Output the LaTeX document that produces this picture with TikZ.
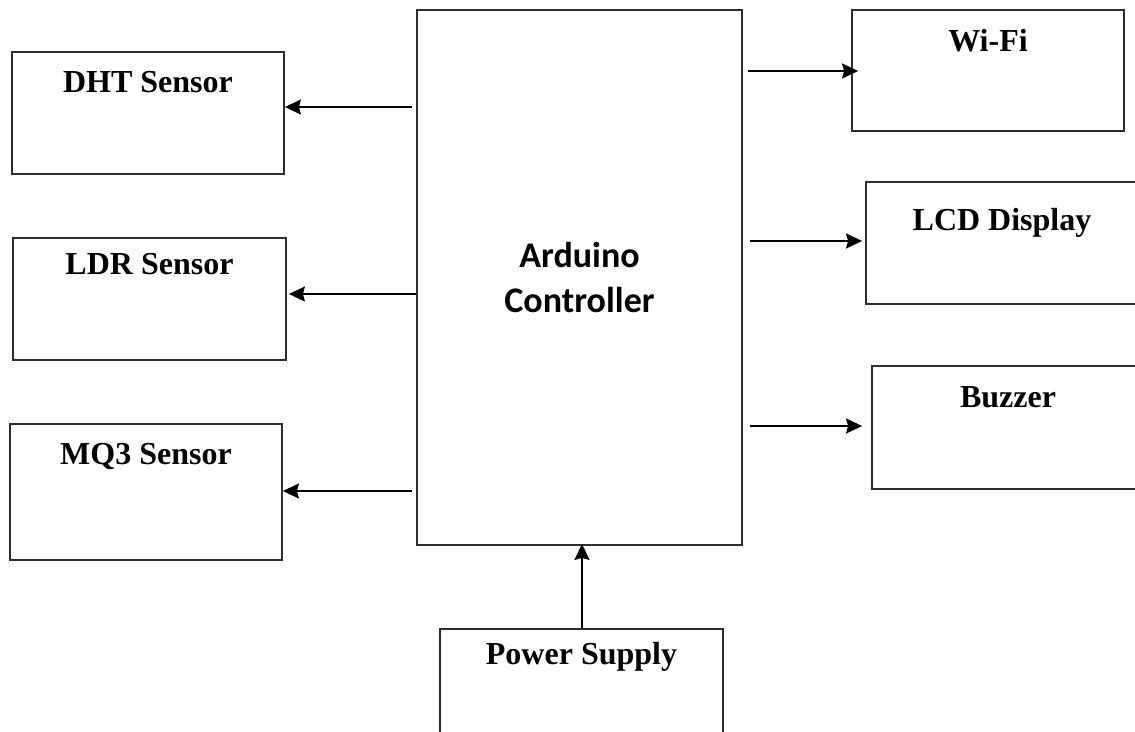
\documentclass[tikz,border=0pt]{standalone}
\usepackage{fontspec}
\setmainfont{Liberation Serif}
\newfontfamily\ctrlfont{Carlito}
\usepackage{tikz}
\usetikzlibrary{arrows.meta,calc}
\definecolor{ink}{HTML}{000000}
\definecolor{edge}{HTML}{2E2E2E}
\tikzset{
  box/.style={draw=edge,line width=1.8pt,minimum width=272pt,minimum height=122pt,inner sep=0pt},
  ctrl/.style={draw=edge,line width=1.8pt,minimum width=325pt,minimum height=535pt,align=center,font=\ctrlfont\fontsize{36}{45}\selectfont\bfseries},
  tag/.style={anchor=base,inner sep=0pt,font=\fontsize{32}{38}\selectfont\bfseries},
  flow/.style={-{Stealth[length=16pt,width=15pt,inset=2pt]},line width=1.9pt,draw=ink}
}
\begin{document}
\begin{tikzpicture}[x=1pt,y=-1pt]
  \useasboundingbox[fill=white] (0,0) rectangle (1135,731);
  \clip (0,0) rectangle (1135,731);
  \node[ctrl] (ard) at (579.5,277.5) {Arduino\\Controller};
  \node[box] (dht) at (148,113) {};
  \node[box,minimum width=273pt] (ldr) at (149.5,299) {};
  \node[box,minimum height=136pt] (mq3) at (146,492) {};
  \node[box,minimum height=121pt] (wifi) at (988,70.5) {};
  \node[box] (lcd) at (1002,243) {};
  \node[box,minimum height=123pt] (buzz) at (1008,427.5) {};
  \node[box,minimum width=283pt] (power) at (581.5,690) {};
  \node[tag] (dhtT) at ([yshift=-41pt]dht.north) {DHT Sensor};
  \node[tag] (ldrT) at ([yshift=-37pt]ldr.north) {LDR Sensor};
  \node[tag] (mq3T) at ([yshift=-41pt]mq3.north) {MQ3 Sensor};
  \node[tag] (wifiT) at ([yshift=-42pt]wifi.north) {Wi-Fi};
  \node[tag] (lcdT) at ([yshift=-49pt]lcd.north) {LCD Display};
  \node[tag] (buzzT) at ([yshift=-42pt]buzz.north) {Buzzer};
  \node[tag] (powerT) at ([yshift=-36pt]power.north) {Power Supply};
  \draw[flow] ($(ard.west |- dht.east)+(-4,-6)$) -- ($(dht.east)+(0,-6)$);
  \draw[flow] ($(ard.west |- ldr.east)+(0,-5)$) -- ($(ldr.east)+(2,-5)$);
  \draw[flow] ($(ard.west |- mq3.east)+(-4,-1)$) -- ($(mq3.east)+(0,-1)$);
  \draw[flow] ($(ard.east |- wifi.west)+(5,0.5)$) -- ($(wifi.west)+(7,0.5)$);
  \draw[flow] ($(ard.east |- lcd.west)+(7,-2)$) -- ($(lcd.west)+(-3,-2)$);
  \draw[flow] ($(ard.east |- buzz.west)+(7,-1.5)$) -- ($(buzz.west)+(-9,-1.5)$);
  \draw[flow] ($(power.north)+(0.5,0)$) -- ($(ard.south -| power.north)+(0.5,-2)$);
\end{tikzpicture}
\end{document}
